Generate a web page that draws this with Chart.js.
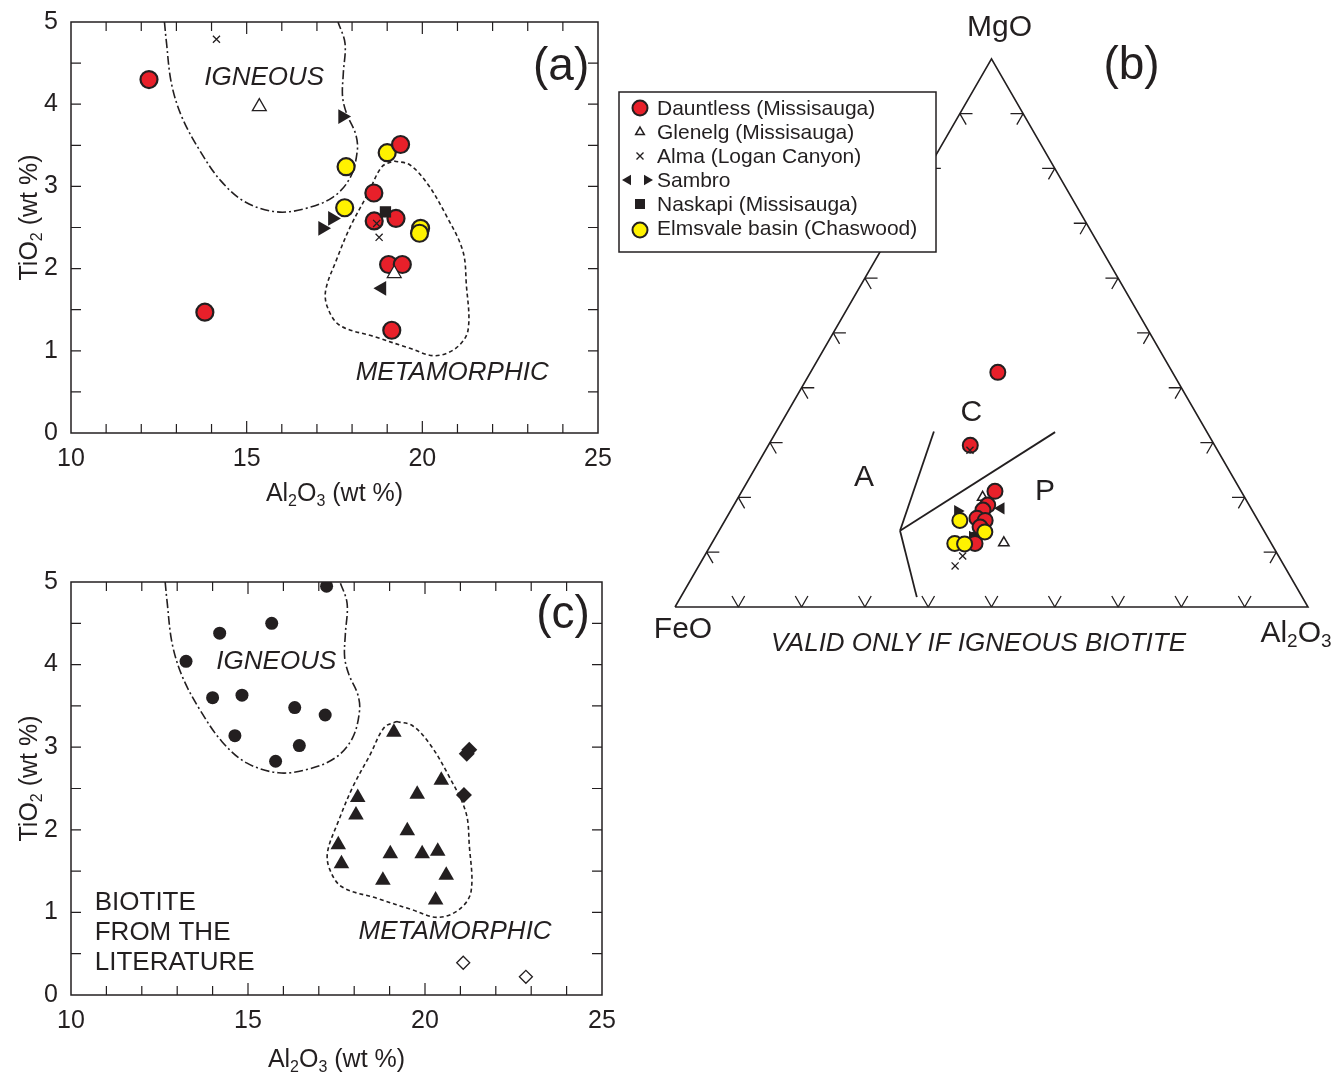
<!DOCTYPE html>
<html>
<head>
<meta charset="utf-8">
<script src="https://cdn.jsdelivr.net/npm/chart.js@4.4.1/dist/chart.umd.min.js"></script>
<style>
  body { margin: 0; background: #fff; width: 1339px; height: 1074px; position: relative; overflow: hidden; }
  canvas { position: absolute; }
  #chartA { left: 0; top: 0; }
  #chartB { left: 600px; top: 0; }
  #chartC { left: 0; top: 560px; }
</style>
</head>
<body>
<canvas id="chartA" width="620" height="530"></canvas>
<canvas id="chartB" width="739" height="670"></canvas>
<canvas id="chartC" width="625" height="514"></canvas>
<script>
// ---- panel (a): Al2O3 vs TiO2 (wt %) of detrital biotite ----
const dauntlessX = [12.22, 19.38, 18.62, 18.63, 19.25, 19.04, 19.43, 13.81, 19.13];
const dauntlessY = [4.30, 3.51, 2.92, 2.58, 2.61, 2.05, 2.05, 1.47, 1.25];
const elmsvaleX = [19.0, 17.83, 17.79, 19.95, 19.92];
const elmsvaleY = [3.41, 3.24, 2.74, 2.49, 2.43];
const glenelgX = [15.36, 19.2];
const glenelgY = [3.97, 1.94];
const almaX = [14.14, 18.7, 18.77];
const almaY = [4.79, 2.55, 2.38];
const sambroRightX = [17.73, 17.44, 17.16];
const sambroRightY = [3.85, 2.61, 2.49];
const sambroLeftX = [18.85];
const sambroLeftY = [1.76];
const naskapiX = [18.95];
const naskapiY = [2.69];

// igneous / metamorphic fields (same outlines in a and c)
const igneousFieldX = [12.66, 12.71, 12.86, 13.16, 13.66, 14.26, 14.96, 15.86, 16.66, 17.46, 17.95, 18.15, 18.1, 17.85, 17.73, 17.75, 17.8, 17.6];
const igneousFieldY = [5.0, 4.78, 4.25, 3.84, 3.44, 3.07, 2.81, 2.69, 2.73, 2.87, 3.11, 3.44, 3.64, 3.88, 4.09, 4.37, 4.74, 5.0];
const metaFieldX = [19.2, 19.65, 20.15, 20.65, 21.15, 21.25, 21.3, 20.95, 20.35, 19.65, 18.65, 17.65, 17.3, 17.25, 17.55, 17.95, 18.45, 18.85, 19.2];
const metaFieldY = [3.31, 3.26, 3.03, 2.67, 2.22, 1.82, 1.25, 1.03, 0.94, 1.03, 1.17, 1.31, 1.53, 1.74, 2.10, 2.51, 2.91, 3.24, 3.31];

// ---- panel (c): biotite from the literature ----
const litIgneousX = [17.22, 15.67, 14.2, 13.25, 14.0, 14.83, 16.32, 17.18, 14.63, 16.45, 15.78];
const litIgneousY = [4.95, 4.50, 4.38, 4.04, 3.60, 3.63, 3.48, 3.39, 3.14, 3.02, 2.83];
const litPeralX = [21.25, 21.18, 21.1];
const litPeralY = [2.97, 2.92, 2.42];
const litHydroX = [21.08, 22.85];
const litHydroY = [0.39, 0.22];
const litMetaX = [19.12, 20.46, 18.10, 19.78, 18.05, 19.5, 17.55, 20.36, 19.02, 19.92, 17.64, 20.6, 18.81, 20.3];
const litMetaY = [3.18, 2.60, 2.39, 2.43, 2.18, 1.99, 1.82, 1.74, 1.71, 1.71, 1.59, 1.45, 1.39, 1.15];

// ---- panel (b): FeO - Al2O3 - MgO ternary, [FeO, Al2O3, MgO] ----
const bDauntless = [[27.6, 29.6, 42.8], [38.6, 31.9, 29.5], [38.9, 40.0, 21.1], [41.3, 40.1, 18.6], [42.5, 39.8, 17.7],
                    [44.2, 39.6, 16.2], [43.1, 41.1, 15.8], [44.5, 40.9, 14.6], [46.8, 41.6, 11.6]];
const bElmsvale = [[47.1, 37.1, 15.8], [44.2, 42.1, 13.7], [50.0, 38.4, 11.6], [48.5, 40.0, 11.5]];
const bGlenelg = [[41.4, 38.6, 20.0], [42.2, 46.1, 11.7]];
const bAlma = [[39.1, 32.3, 28.6], [49.9, 40.8, 9.3], [52.0, 40.5, 7.5]];
const bSambroRight = [[46.6, 35.9, 17.5], [46.6, 40.6, 12.8]];
const bSambroLeft = [[39.5, 42.5, 18.0]];
const bNaskapi = [[46.0, 41.2, 12.8]];
const bVertices = [[100, 0, 0], [0, 0, 100], [0, 100, 0], [100, 0, 0]];
const bJunction = [57.5, 28.6, 13.9];
const bFieldEnds = [[43.1, 24.9, 32.0], [60.9, 37.3, 1.8], [24.0, 44.1, 31.9]];
const bFieldLabels = [['A', 58.4, 18.1, 23.5], ['C', 35.5, 29.1, 35.4], ['P', 31.0, 47.9, 21.1]];
const bTickSteps = [10, 20, 30, 40, 50, 60, 70, 80, 90];

const INK = '#231f20';
const RED = '#e8202a';
const YELLOW = '#fff200';
const FONT = '"Liberation Sans", Arial, sans-serif';

function pts(xs, ys) { return xs.map((x, i) => ({ x: x, y: ys[i] })); }
function tern(c) {
  const s = c[0] + c[1] + c[2];
  const al = c[1] / s, mg = c[2] / s;
  return { x: al + mg / 2, y: mg * Math.sqrt(3) / 2 };
}

// simple marker painter for the hand drawn legends
function marker(ctx, style, x, y, r, fill, stroke, lw, rot) {
  ctx.save();
  ctx.fillStyle = fill; ctx.strokeStyle = stroke; ctx.lineWidth = lw;
  ctx.beginPath();
  if (style === 'circle') {
    ctx.arc(x, y, r, 0, Math.PI * 2);
  } else if (style === 'triangle') {
    let a = (rot || 0) * Math.PI / 180;
    for (let k = 0; k < 3; k++) {
      const px = x + Math.sin(a) * r, py = y - Math.cos(a) * r;
      k ? ctx.lineTo(px, py) : ctx.moveTo(px, py);
      a += Math.PI * 2 / 3;
    }
    ctx.closePath();
  } else if (style === 'rect') {
    ctx.rect(x - r, y - r, 2 * r, 2 * r);
  } else if (style === 'rectRot') {
    ctx.moveTo(x, y - r); ctx.lineTo(x + r, y); ctx.lineTo(x, y + r); ctx.lineTo(x - r, y); ctx.closePath();
  } else if (style === 'crossRot') {
    ctx.moveTo(x - r, y - r); ctx.lineTo(x + r, y + r);
    ctx.moveTo(x + r, y - r); ctx.lineTo(x - r, y + r);
    ctx.stroke(); ctx.restore(); return;
  }
  if (fill !== 'none') ctx.fill();
  if (lw > 0) ctx.stroke();
  ctx.restore();
}

// text with subscripts: parts = [[text, isSub], ...]
function richText(ctx, parts, x, y, size, align, style) {
  const main = (style || '') + ' ' + size + 'px ' + FONT;
  const sub = (style || '') + ' ' + Math.round(size * 0.62) + 'px ' + FONT;
  let w = 0;
  parts.forEach(p => { ctx.font = p[1] ? sub : main; w += ctx.measureText(p[0]).width; });
  let cx = align === 'center' ? x - w / 2 : (align === 'right' ? x - w : x);
  ctx.textAlign = 'left';
  ctx.textBaseline = 'alphabetic';
  parts.forEach(p => {
    ctx.font = p[1] ? sub : main;
    ctx.fillText(p[0], cx, p[1] ? y + size * 0.18 : y);
    cx += ctx.measureText(p[0]).width;
  });
}

const xTitle = [['Al', false], ['2', true], ['O', false], ['3', true], [' (wt %)', false]];
const yTitle = [['TiO', false], ['2', true], [' (wt %)', false]];

// frame, inward ticks, axis titles and free text for the two x-y panels
const xyDecor = {
  id: 'xyDecor',
  afterDraw(chart, args, opts) {
    const ctx = chart.ctx, a = chart.chartArea;
    const sx = chart.scales.x, sy = chart.scales.y;
    ctx.save();
    ctx.strokeStyle = INK; ctx.lineWidth = 1.5;
    ctx.strokeRect(a.left, a.top, a.right - a.left, a.bottom - a.top);
    ctx.lineWidth = 1.2;
    ctx.beginPath();
    for (let v = 11; v < 25; v++) {
      const px = sx.getPixelForValue(v), len = v % 5 === 0 ? 12 : 9;
      ctx.moveTo(px, a.bottom); ctx.lineTo(px, a.bottom - len);
      ctx.moveTo(px, a.top); ctx.lineTo(px, a.top + len);
    }
    for (let v = 0.5; v < 5; v += 0.5) {
      const py = sy.getPixelForValue(v);
      ctx.moveTo(a.left, py); ctx.lineTo(a.left + 10, py);
      ctx.moveTo(a.right, py); ctx.lineTo(a.right - 10, py);
    }
    ctx.stroke();
    ctx.fillStyle = INK;
    richText(ctx, xTitle, (a.left + a.right) / 2, a.bottom + opts.xTitleGap, 25, 'center');
    ctx.save();
    ctx.translate(a.left - 43, (a.top + a.bottom) / 2 - 10);
    ctx.rotate(-Math.PI / 2);
    richText(ctx, yTitle, 0, 9, 25, 'center');
    ctx.restore();
    opts.notes.forEach(n => {
      ctx.font = (n.italic ? 'italic ' : '') + n.size + 'px ' + FONT;
      ctx.textAlign = n.align || 'center';
      ctx.textBaseline = 'middle';
      ctx.fillText(n.text, sx.getPixelForValue(n.x), sy.getPixelForValue(n.y));
    });
    drawLegend(ctx, opts.legend);
    ctx.restore();
  }
};

function drawLegend(ctx, lg) {
  if (!lg) return;
  ctx.save();
  ctx.fillStyle = '#fff';
  ctx.fillRect(lg.box[0], lg.box[1], lg.box[2], lg.box[3]);
  ctx.strokeStyle = INK; ctx.lineWidth = 1.5;
  ctx.strokeRect(lg.box[0], lg.box[1], lg.box[2], lg.box[3]);
  ctx.fillStyle = INK;
  ctx.font = '21px ' + FONT;
  ctx.textAlign = 'left'; ctx.textBaseline = 'middle';
  lg.items.forEach((it, i) => {
    const y = lg.y0 + i * lg.dy;
    it.marks.forEach(m => marker(ctx, m.style, lg.mx + (m.dx || 0), y + (m.dy || 0), m.r, m.fill, m.stroke || INK, m.lw, m.rot));
    ctx.fillStyle = INK;
    ctx.fillText(it.label, lg.tx, y + 1);
  });
  ctx.restore();
}

// fixed axis boxes; label overflow padding is dropped so the frame sits where the layout padding puts it
function xyScales(xHeight) {
  const tickFont = { family: FONT, size: 25 };
  return {
    x: { type: 'linear', min: 10, max: 25, grid: { display: false, drawTicks: false }, border: { display: false },
         ticks: { stepSize: 5, font: tickFont, color: INK, padding: 11, maxRotation: 0 },
         afterFit: s => { s.height = xHeight; s.paddingLeft = 0; s.paddingRight = 0; } },
    y: { type: 'linear', min: 0, max: 5, grid: { display: false, drawTicks: false }, border: { display: false },
         ticks: { stepSize: 1, font: tickFont, color: INK, padding: 13 },
         afterFit: s => { s.width = 71; s.paddingTop = 0; s.paddingBottom = 0; } }
  };
}

function field(xs, ys, dash) {
  return { type: 'line', data: pts(xs, ys), borderColor: INK, borderWidth: 1.6, borderDash: dash,
           pointRadius: 0, tension: 0.35, fill: false };
}
function pointSet(data, style, r, fill, lw, rot) {
  return { type: 'scatter', data: data, pointStyle: style, pointRadius: r, pointBackgroundColor: fill,
           pointBorderColor: INK, pointBorderWidth: lw, pointRotation: rot || 0 };
}

const common = { responsive: false, animation: false, events: [],
                 plugins: { legend: { display: false }, tooltip: { enabled: false } } };

// panel (a)
new Chart(document.getElementById('chartA'), {
  type: 'scatter',
  data: { datasets: [
    pointSet(pts(almaX, almaY), 'crossRot', 5, INK, 1.3),
    pointSet(pts(glenelgX, glenelgY), 'triangle', 8, '#fff', 1.3),
    pointSet(pts(sambroRightX, sambroRightY), 'triangle', 8.5, INK, 0, 90),
    pointSet(pts(sambroLeftX, sambroLeftY), 'triangle', 8.5, INK, 0, -90),
    pointSet(pts(naskapiX, naskapiY), 'rect', 8, INK, 0),
    pointSet(pts(dauntlessX, dauntlessY), 'circle', 8.5, RED, 2.2),
    pointSet(pts(elmsvaleX, elmsvaleY), 'circle', 8.5, YELLOW, 2.2),
    field(igneousFieldX, igneousFieldY, [9, 3, 2, 3]),
    field(metaFieldX, metaFieldY, [4, 3])
  ] },
  options: Object.assign({}, common, {
    layout: { autoPadding: false, padding: { top: 22, right: 22, left: 0, bottom: 0 } },
    scales: xyScales(97),
    plugins: Object.assign({}, common.plugins, {
      xyDecor: { xTitleGap: 68, notes: [
        { text: 'IGNEOUS', x: 15.5, y: 4.32, size: 26, italic: true },
        { text: 'METAMORPHIC', x: 20.85, y: 0.73, size: 26, italic: true },
        { text: '(a)', x: 23.95, y: 4.45, size: 46 }
      ] }
    })
  }),
  plugins: [xyDecor]
});

// panel (c)
new Chart(document.getElementById('chartC'), {
  type: 'scatter',
  data: { datasets: [
    pointSet(pts(litIgneousX, litIgneousY), 'circle', 6.5, INK, 0),
    pointSet(pts(litPeralX, litPeralY), 'rectRot', 8, INK, 0),
    pointSet(pts(litHydroX, litHydroY), 'rectRot', 6.5, '#fff', 1.3),
    pointSet(pts(litMetaX, litMetaY), 'triangle', 9, INK, 0),
    field(igneousFieldX, igneousFieldY, [9, 3, 2, 3]),
    field(metaFieldX, metaFieldY, [4, 3])
  ] },
  options: Object.assign({}, common, {
    layout: { autoPadding: false, padding: { top: 22, right: 23, left: 0, bottom: 0 } },
    scales: xyScales(79),
    plugins: Object.assign({}, common.plugins, {
      xyDecor: { xTitleGap: 72, notes: [
        { text: 'IGNEOUS', x: 15.8, y: 4.03, size: 26, italic: true },
        { text: 'METAMORPHIC', x: 20.85, y: 0.76, size: 26, italic: true },
        { text: '(c)', x: 23.9, y: 4.6, size: 46 },
        { text: 'BIOTITE', x: 10.67, y: 1.11, size: 26, align: 'left' },
        { text: 'FROM THE', x: 10.67, y: 0.75, size: 26, align: 'left' },
        { text: 'LITERATURE', x: 10.67, y: 0.39, size: 26, align: 'left' }
      ],
      legend: { box: [627, 319, 253, 113], y0: 338, dy: 24, mx: 646, tx: 665, items: [
        { label: 'Igneous', marks: [{ style: 'circle', r: 6, fill: INK, lw: 0 }] },
        { label: 'Peraluminous granite', marks: [{ style: 'rectRot', r: 7, fill: INK, lw: 0 }] },
        { label: 'Hydrothermal', marks: [{ style: 'rectRot', r: 5.5, fill: '#fff', lw: 1.3 }] },
        { label: 'Metamorphic', marks: [{ style: 'triangle', r: 8, fill: INK, lw: 0 }] }
      ] } }
    })
  }),
  plugins: [xyDecor]
});

// panel (b): ternary drawn on hidden linear axes
const ternDecor = {
  id: 'ternDecor',
  afterDraw(chart) {
    const ctx = chart.ctx, sx = chart.scales.x, sy = chart.scales.y;
    const P = c => { const t = tern(c); return [sx.getPixelForValue(t.x), sy.getPixelForValue(t.y)]; };
    const L = 0.02, h = Math.sqrt(3) / 2;
    ctx.save();
    ctx.strokeStyle = INK; ctx.lineWidth = 1.3;
    ctx.beginPath();
    bTickSteps.forEach(k => {
      const f = k / 100;
      const sides = [
        [{ x: f, y: 0 }, [[0.5, h], [-0.5, h]]],
        [{ x: f / 2, y: f * h }, [[1, 0], [0.5, -h]]],
        [{ x: 1 - f / 2, y: f * h }, [[-1, 0], [-0.5, -h]]]
      ];
      sides.forEach(s => {
        const p = s[0];
        s[1].forEach(d => {
          ctx.moveTo(sx.getPixelForValue(p.x), sy.getPixelForValue(p.y));
          ctx.lineTo(sx.getPixelForValue(p.x + d[0] * L), sy.getPixelForValue(p.y + d[1] * L));
        });
      });
    });
    ctx.stroke();
    ctx.fillStyle = INK;
    ctx.textAlign = 'center'; ctx.textBaseline = 'middle';
    ctx.font = '30px ' + FONT;
    bFieldLabels.forEach(l => { const p = P(l.slice(1)); ctx.fillText(l[0], p[0], p[1]); });
    const top = P([0, 0, 100]), left = P([100, 0, 0]), right = P([0, 100, 0]);
    ctx.fillText('MgO', top[0] + 8, top[1] - 31);
    ctx.fillText('FeO', left[0] + 8, left[1] + 23);
    richText(ctx, [['Al', false], ['2', true], ['O', false], ['3', true]], right[0] - 12, right[1] + 35, 30, 'center');
    ctx.font = 'italic 26px ' + FONT;
    ctx.textAlign = 'center'; ctx.textBaseline = 'middle';
    ctx.fillText('VALID ONLY IF IGNEOUS BIOTITE', (left[0] + right[0]) / 2 - 13, left[1] + 37);
    ctx.font = '46px ' + FONT;
    ctx.fillText('(b)', top[0] + 140, 66);
    drawLegend(ctx, {
      box: [19, 92, 317, 160], y0: 108, dy: 24, mx: 40, tx: 57, items: [
        { label: 'Dauntless (Missisauga)', marks: [{ style: 'circle', r: 7.5, fill: RED, lw: 2 }] },
        { label: 'Glenelg (Missisauga)', marks: [{ style: 'triangle', r: 5, fill: '#fff', lw: 1.5 }] },
        { label: 'Alma (Logan Canyon)', marks: [{ style: 'crossRot', r: 3.5, fill: INK, lw: 1.4 }] },
        { label: 'Sambro', marks: [{ style: 'triangle', r: 6, fill: INK, lw: 0, rot: -90, dx: -12 },
                                   { style: 'triangle', r: 6, fill: INK, lw: 0, rot: 90, dx: 7 }] },
        { label: 'Naskapi (Missisauga)', marks: [{ style: 'rect', r: 5, fill: INK, lw: 0 }] },
        { label: 'Elmsvale basin (Chaswood)', marks: [{ style: 'circle', r: 7.5, fill: YELLOW, lw: 2, dy: 2 }] }
      ] });
    ctx.restore();
  }
};

function ternLine(a, b) {
  return { type: 'line', data: [tern(a), tern(b)], borderColor: INK, borderWidth: 1.8, pointRadius: 0, fill: false };
}
function ternSet(list, style, r, fill, lw, rot) {
  return pointSet(list.map(tern), style, r, fill, lw, rot);
}

new Chart(document.getElementById('chartB'), {
  type: 'scatter',
  data: { datasets: [
    ternSet(bAlma, 'crossRot', 5, INK, 1.3),
    ternSet(bElmsvale, 'circle', 7.5, YELLOW, 2),
    ternSet(bDauntless, 'circle', 7.5, RED, 2),
    ternSet(bGlenelg, 'triangle', 6, '#fff', 1.5),
    ternSet(bSambroRight, 'triangle', 7, INK, 0, 90),
    ternSet(bSambroLeft, 'triangle', 7, INK, 0, -90),
    ternSet(bNaskapi, 'rect', 7, INK, 0),
    ternLine(bJunction, bFieldEnds[0]),
    ternLine(bJunction, bFieldEnds[1]),
    ternLine(bJunction, bFieldEnds[2]),
    { type: 'line', data: bVertices.map(tern), borderColor: INK, borderWidth: 1.6, pointRadius: 0, fill: false }
  ] },
  options: Object.assign({}, common, {
    layout: { autoPadding: false, padding: 0 },
    scales: {
      x: { type: 'linear', display: false, min: -0.1185, max: 1.049 },
      y: { type: 'linear', display: false, min: -0.0995, max: 0.9589 }
    }
  }),
  plugins: [ternDecor]
});
</script>
</body>
</html>
